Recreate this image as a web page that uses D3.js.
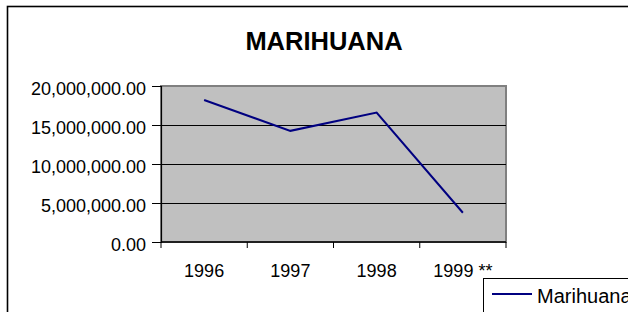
<!DOCTYPE html>
<html><head><meta charset="utf-8">
<script src="https://cdn.jsdelivr.net/npm/d3@7"></script>
<style>html,body{margin:0;padding:0;background:#fff;overflow:hidden}</style>
</head><body>
<script>
const categories = ["1996", "1997", "1998", "1999 **"];
const values = [18200000, 14250000, 16600000, 3750000];
const yTicks = [0, 5000000, 10000000, 15000000, 20000000];
const title = "MARIHUANA";
const seriesName = "Marihuana";

const W = 628, H = 312;
const svg = d3.select("body").append("svg").attr("width", W).attr("height", H)
  .style("font-family", "Arial, 'Liberation Sans', sans-serif");

// outer chart border (extends beyond window on right/bottom)
svg.append("rect").attr("x", 7.5).attr("y", 6.5).attr("width", 700).attr("height", 400)
  .attr("fill", "#fff").attr("stroke", "#000").attr("stroke-width", 1.6);

const plot = {left: 161, right: 506, top: 86, bottom: 242};

const x = d3.scaleBand().domain(categories).range([plot.left, plot.right]).padding(0);
const y = d3.scaleLinear().domain([0, 20000000]).range([plot.bottom, plot.top]);

// title
svg.append("text").attr("x", 324).attr("y", 50).attr("text-anchor", "middle")
  .attr("font-size", 25.5).attr("font-weight", "bold").text(title);

// plot area
svg.append("rect").attr("x", plot.left).attr("y", plot.top)
  .attr("width", plot.right - plot.left).attr("height", plot.bottom - plot.top)
  .attr("fill", "#c0c0c0").attr("stroke", "#808080").attr("stroke-width", 2);

// gridlines
svg.append("g").selectAll("line").data(yTicks.filter(d => d > 0 && d < 20000000)).join("line")
  .attr("x1", plot.left).attr("x2", plot.right)
  .attr("y1", d => Math.round(y(d)) + 0.5).attr("y2", d => Math.round(y(d)) + 0.5)
  .attr("stroke", "#000").attr("stroke-width", 1);

// y axis
const fmt = d3.format(",.2f");
const yAxis = svg.append("g").attr("transform", `translate(${plot.left},0)`)
  .call(d3.axisLeft(y).tickValues(yTicks).tickFormat(fmt).tickSize(9).tickPadding(6));
yAxis.select(".domain").attr("stroke", "#000").attr("stroke-width", 1.2);
yAxis.selectAll(".tick line").attr("stroke", "#000");
yAxis.selectAll("text").attr("font-size", 18).attr("fill", "#000")
  .attr("font-family", "Arial, 'Liberation Sans', sans-serif").attr("dy", "0.45em");

// x axis with ticks at category boundaries
const xAxisG = svg.append("g").attr("transform", `translate(0,${plot.bottom})`);
xAxisG.append("line").attr("x1", plot.left).attr("x2", plot.right).attr("y1", 0).attr("y2", 0)
  .attr("stroke", "#000").attr("stroke-width", 1.6);
const boundaries = categories.map(c => x(c)).concat([x(categories[categories.length - 1]) + x.bandwidth()]);
xAxisG.selectAll("line.tk").data(boundaries).join("line").attr("class", "tk")
  .attr("x1", d => d).attr("x2", d => d).attr("y1", 0).attr("y2", 6)
  .attr("stroke", "#000").attr("stroke-width", 1);
xAxisG.selectAll("text").data(categories).join("text")
  .attr("x", d => x(d) + x.bandwidth() / 2).attr("y", 35)
  .attr("text-anchor", "middle").attr("font-size", 18).attr("fill", "#000").text(d => d);

// line
const line = d3.line().x((d, i) => x(categories[i]) + x.bandwidth() / 2).y(d => y(d));
svg.append("path").datum(values).attr("d", line)
  .attr("fill", "none").attr("stroke", "#000080").attr("stroke-width", 2);

// legend (cut off by window)
const lg = svg.append("g");
lg.append("rect").attr("x", 483.5).attr("y", 278.5).attr("width", 200).attr("height", 60)
  .attr("fill", "#fff").attr("stroke", "#000").attr("stroke-width", 1);
lg.append("line").attr("x1", 492).attr("x2", 532).attr("y1", 294).attr("y2", 294)
  .attr("stroke", "#000080").attr("stroke-width", 2);
lg.append("text").attr("x", 537).attr("y", 302.5).attr("font-size", 20).attr("fill", "#000").text(seriesName);
</script>
</body></html>
